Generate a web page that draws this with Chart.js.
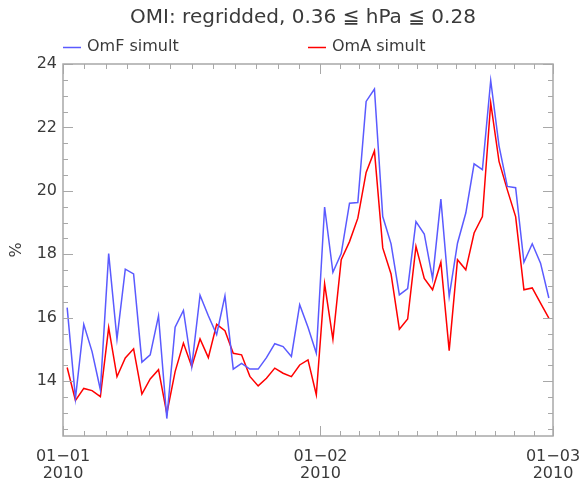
<!DOCTYPE html>
<html>
<head>
<meta charset="utf-8">
<script src="https://cdn.jsdelivr.net/npm/chart.js@4.4.1/dist/chart.umd.min.js"></script>
<style>
  body { margin: 0; background: #fff; }
  canvas { display: block; }
</style>
</head>
<body>
<canvas id="omiChart" width="581" height="479"></canvas>
<script>
// valeurs (un point par jour, 1 jan -> 28 fev 2010, a midi)
const omfSimult = [16.32, 13.46, 15.79, 14.93, 13.73, 18.02, 15.33, 17.53, 17.38, 14.60,
    14.83, 16.06, 12.82, 15.70, 16.23, 14.46, 16.71, 16.06, 15.47, 16.69,
    14.38, 14.56, 14.38, 14.38, 14.74, 15.18, 15.09, 14.78, 16.41, 15.70,
    14.88, 19.49, 17.43, 18.02, 19.61, 19.63, 22.82, 23.21, 19.19, 18.33,
    16.72, 16.92, 19.03, 18.64, 17.23, 19.74, 16.67, 18.35, 19.30, 20.85,
    20.67, 23.48, 21.42, 20.14, 20.10, 17.75, 18.33, 17.72, 16.62];
const omaSimult = [14.43, 13.39, 13.77, 13.70, 13.51, 15.69, 14.14, 14.73, 15.02, 13.59,
    14.07, 14.36, 12.98, 14.30, 15.20, 14.46, 15.33, 14.74, 15.79, 15.59,
    14.88, 14.83, 14.15, 13.85, 14.09, 14.41, 14.25, 14.14, 14.51, 14.67,
    13.57, 17.07, 15.32, 17.83, 18.40, 19.14, 20.58, 21.26, 18.20, 17.38,
    15.64, 15.96, 18.25, 17.24, 16.88, 17.75, 14.96, 17.83, 17.51, 18.67,
    19.19, 22.77, 20.93, 20.03, 19.19, 16.88, 16.94, 16.46, 15.99];

// debut de chaque mois, en jours depuis le 1er janvier
const monthStarts = [0, 31, 59];
const monthLabels = [['01\u221201', '2010'], ['01\u221202', '2010'], ['01\u221203', '2010']];
const yTicks = [14, 16, 18, 20, 22, 24];

const titleText = 'OMI: regridded, 0.36 \u2266 hPa \u2266 0.28';
const seriesNames = ['OmF simult', 'OmA simult'];
const seriesColors = ['#5a5aff', '#ff0000'];

const textColor = '#3a3a3a';
const axisColor = '#a8a8a8';
const FONT = '"DejaVu Sans", sans-serif';

const toPoints = arr => arr.map((v, i) => ({ x: i + 0.5, y: v }));

// cadre, petites graduations interieures, titre et legende facon IDL
const idlDecor = {
    id: 'idlDecor',
    afterDraw(chart) {
        const ctx = chart.ctx;
        const area = chart.chartArea;
        const xs = chart.scales.x;
        const ys = chart.scales.y;
        const midX = (area.left + area.right) / 2;
        ctx.save();
        ctx.strokeStyle = axisColor;
        ctx.lineWidth = 1.5;
        ctx.strokeRect(area.left, area.top, area.right - area.left, area.bottom - area.top);

        ctx.lineWidth = 1;
        ctx.beginPath();
        // graduations y : majeures tous les 2, mineures tous les 0.5
        for (let v = Math.ceil(ys.min * 2) / 2; v <= ys.max + 1e-6; v += 0.5) {
            const py = Math.round(ys.getPixelForValue(v)) + 0.5;
            const len = (Math.abs(v % 2) < 1e-6) ? 10 : 5;
            ctx.moveTo(area.left, py); ctx.lineTo(area.left + len, py);
            ctx.moveTo(area.right, py); ctx.lineTo(area.right - len, py);
        }
        // graduations x : 12 par mois
        for (let m = 0; m < monthStarts.length - 1; m++) {
            const a = monthStarts[m], b = monthStarts[m + 1];
            for (let k = 0; k <= 12; k++) {
                const px = Math.round(xs.getPixelForValue(a + (b - a) * k / 12)) + 0.5;
                const len = (k === 0 || k === 12) ? 10 : 5;
                ctx.moveTo(px, area.bottom); ctx.lineTo(px, area.bottom - len);
                ctx.moveTo(px, area.top); ctx.lineTo(px, area.top + len);
            }
        }
        ctx.stroke();

        // titre
        ctx.fillStyle = textColor;
        ctx.textBaseline = 'middle';
        ctx.textAlign = 'center';
        ctx.font = '20px ' + FONT;
        ctx.fillText(titleText, midX - 5, 18);

        // legende : premiere entree au bord gauche, seconde au milieu
        ctx.font = '16px ' + FONT;
        ctx.textAlign = 'left';
        const legendX = [area.left, midX];
        seriesNames.forEach((name, i) => {
            ctx.strokeStyle = seriesColors[i];
            ctx.lineWidth = 1.5;
            ctx.beginPath();
            ctx.moveTo(legendX[i], 47.5);
            ctx.lineTo(legendX[i] + 18, 47.5);
            ctx.stroke();
            ctx.fillText(name, legendX[i] + 24, 47);
        });

        // titre de l'axe y
        ctx.save();
        ctx.translate(17, 250);
        ctx.rotate(-Math.PI / 2);
        ctx.textAlign = 'center';
        ctx.font = '16px ' + FONT;
        ctx.fillText('%', 0, 0);
        ctx.restore();

        ctx.restore();
    }
};

const chart = new Chart(document.getElementById('omiChart'), {
    type: 'line',
    data: {
        datasets: [{
            label: seriesNames[0],
            data: toPoints(omfSimult),
            borderColor: seriesColors[0],
            borderWidth: 1.5,
            pointRadius: 0,
            tension: 0
        }, {
            label: seriesNames[1],
            data: toPoints(omaSimult),
            borderColor: seriesColors[1],
            borderWidth: 1.5,
            pointRadius: 0,
            tension: 0
        }]
    },
    options: {
        responsive: false,
        animation: false,
        events: [],
        layout: { padding: { top: 64, left: 0, right: 28, bottom: 0 } },
        plugins: {
            legend: { display: false },
            title: { display: false },
            tooltip: { enabled: false }
        },
        scales: {
            x: {
                type: 'linear',
                min: monthStarts[0],
                max: monthStarts[monthStarts.length - 1],
                grid: { display: false, drawTicks: false },
                border: { display: false },
                afterBuildTicks: scale => { scale.ticks = monthStarts.map(v => ({ value: v })); },
                afterFit: scale => {
                    scale.height = 43;
                    scale.paddingLeft = 0;
                    scale.paddingRight = 0;
                },
                ticks: {
                    autoSkip: false,
                    maxRotation: 0,
                    padding: 12,
                    color: textColor,
                    font: { family: FONT, size: 16, lineHeight: 1.0625 },
                    callback: value => monthLabels[monthStarts.indexOf(value)]
                }
            },
            y: {
                min: 12.27,
                max: 24,
                grid: { display: false, drawTicks: false },
                border: { display: false },
                afterBuildTicks: scale => { scale.ticks = yTicks.map(v => ({ value: v })); },
                afterFit: scale => {
                    scale.width = 63;
                    scale.paddingTop = 0;
                    scale.paddingBottom = 0;
                },
                ticks: {
                    padding: 6,
                    color: textColor,
                    font: { family: FONT, size: 16 }
                }
            }
        }
    },
    plugins: [idlDecor]
});
</script>
</body>
</html>
